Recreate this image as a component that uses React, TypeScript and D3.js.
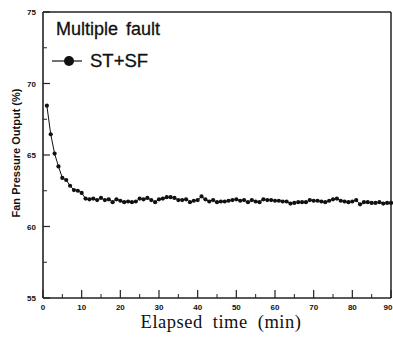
import React from "react";
import * as d3 from "d3";

const times: number[] = d3.range(1, 91);
const values: number[] = [
  68.45, 66.45, 65.1, 64.2, 63.4, 63.25, 62.85, 62.55, 62.5, 62.35,
  61.95, 61.9, 61.95, 61.85, 62.0, 61.85, 61.9, 61.7, 61.9, 61.8,
  61.7, 61.75, 61.7, 61.75, 61.95, 61.9, 62.0, 61.85, 61.7, 61.9,
  61.95, 62.05, 62.05, 62.0, 61.85, 61.85, 61.9, 61.7, 61.8, 61.85,
  62.1, 61.9, 61.75, 61.85, 61.7, 61.75, 61.75, 61.8, 61.85, 61.9,
  61.8, 61.85, 61.7, 61.85, 61.75, 61.7, 61.9, 61.85, 61.85, 61.8,
  61.8, 61.75, 61.75, 61.6, 61.65, 61.7, 61.7, 61.7, 61.85, 61.8,
  61.8, 61.75, 61.7, 61.8, 61.9, 61.95, 61.8, 61.75, 61.7, 61.75,
  61.85, 61.55, 61.7, 61.7, 61.65, 61.65, 61.7, 61.6, 61.65, 61.65,
];
const xTicks: number[] = [0, 10, 20, 30, 40, 50, 60, 70, 80, 90];
const xMinor: number[] = [5, 15, 25, 35, 45, 55, 65, 75, 85];
const yTicks: number[] = [55, 60, 65, 70, 75];
const yMinor: number[] = [57.5, 62.5, 67.5, 72.5];
const title = "Multiple fault";
const seriesName = "ST+SF";
const xTitle = "Elapsed time (min)";
const yTitle = "Fan Pressure Output (%)";

export default function App() {
  const W = 393, H = 340;
  const L = 43, R = 391, T = 12, B = 298;
  const x = d3.scaleLinear().domain([0, 90]).range([L, R]);
  const y = d3.scaleLinear().domain([55, 75]).range([B, T]);
  const pts = times.map((t, i) => [t, values[i]] as [number, number]);
  const line = d3.line<[number, number]>().x(d => x(d[0])).y(d => y(d[1]));
  const tickFont = "'Liberation Sans', Arial, sans-serif";
  return (
    <svg width={W} height={H} style={{ position: "absolute", left: 0, top: 0, background: "#fff" }}>
      <rect x={0} y={0} width={W} height={H} fill="#fff" />
      {/* frame */}
      <line x1={L} y1={T} x2={R} y2={T} stroke="#222" strokeWidth={1.3} />
      <line x1={R} y1={T} x2={R} y2={B} stroke="#222" strokeWidth={1.5} />
      <line x1={L} y1={B} x2={R} y2={B} stroke="#222" strokeWidth={1.3} />
      <line x1={L} y1={T} x2={L} y2={B} stroke="#222" strokeWidth={1.6} />
      {/* y ticks */}
      {yTicks.map(v => (
        <g key={"y" + v}>
          <line x1={L} x2={L + 7} y1={y(v)} y2={y(v)} stroke="#222" strokeWidth={1.2} />
          <text x={36} y={y(v) + 3} textAnchor="end" fontFamily={tickFont} fontWeight="bold" fontSize={8} fill="#111">{v}</text>
        </g>
      ))}
      {yMinor.map(v => (
        <line key={"ym" + v} x1={L} x2={L + 4} y1={y(v)} y2={y(v)} stroke="#222" strokeWidth={1} />
      ))}
      {/* x ticks */}
      {xTicks.map(v => (
        <g key={"x" + v}>
          <line x1={x(v)} x2={x(v)} y1={B} y2={B - 8} stroke="#222" strokeWidth={1.2} />
          <text x={v === 90 ? W - 0.5 : x(v)} y={310} textAnchor={v === 90 ? "end" : "middle"} fontFamily={tickFont} fontWeight="bold" fontSize={8} fill="#111">{v}</text>
        </g>
      ))}
      {xMinor.map(v => (
        <line key={"xm" + v} x1={x(v)} x2={x(v)} y1={B} y2={B - 4} stroke="#222" strokeWidth={1} />
      ))}
      {/* data */}
      <path d={line(pts) || ""} fill="none" stroke="#111" strokeWidth={1} />
      {pts.map((p, i) => (
        <circle key={i} cx={x(p[0])} cy={y(p[1])} r={2.1} fill="#111" />
      ))}
      {/* legend */}
      <text x={56} y={35} fontFamily={tickFont} fontSize={18} wordSpacing={3} fill="#111" stroke="#111" strokeWidth={0.3}>{title}</text>
      <line x1={52} x2={82} y1={61} y2={61} stroke="#111" strokeWidth={1.2} />
      <circle cx={69} cy={61} r={5} fill="#111" />
      <text x={90} y={67} fontFamily={tickFont} fontSize={18.5} fill="#111" stroke="#111" strokeWidth={0.3}>{seriesName}</text>
      {/* axis titles */}
      <text x={221} y={328} textAnchor="middle" fontFamily="'Liberation Serif', 'Times New Roman', serif" fontSize={18.5} letterSpacing={0.5} wordSpacing={5} fill="#111">{xTitle}</text>
      <text transform={`translate(19.5, 153) rotate(-90)`} textAnchor="middle" fontFamily={tickFont} fontWeight="bold" fontSize={11} fill="#111">{yTitle}</text>
    </svg>
  );
}
